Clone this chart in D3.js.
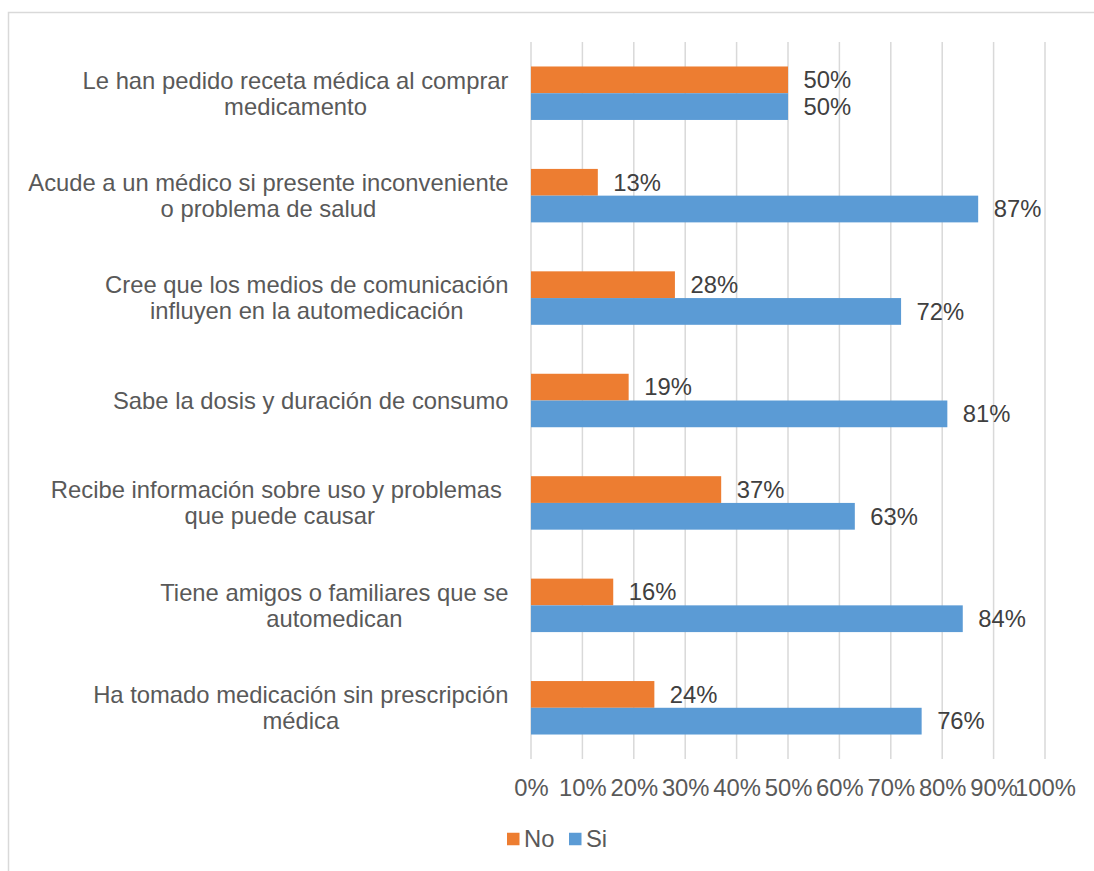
<!DOCTYPE html>
<html>
<head>
<meta charset="utf-8">
<script src="https://cdn.jsdelivr.net/npm/d3@7"></script>
<style>
  html, body { margin: 0; padding: 0; background: #fff; }
  svg { display: block; font-family: "Liberation Sans", Arial, sans-serif; }
</style>
</head>
<body>
<svg id="chart" width="1094" height="871"></svg>
<script>
// Survey items, each split into the lines it is printed on
const categories = [
  ["Le han pedido receta médica al comprar", "medicamento"],
  ["Acude a un médico si presente inconveniente", "o problema de salud"],
  ["Cree que los medios de comunicación", "influyen en la automedicación"],
  ["Sabe la dosis y duración de consumo"],
  ["Recibe información sobre uso y problemas ", "que puede causar"],
  ["Tiene amigos o familiares que se", "automedican"],
  ["Ha tomado medicación sin prescripción", "médica"]
];
const seriesNames = ["No", "Si"];
const noValues = [50, 13, 28, 19, 37, 16, 24];
const siValues = [50, 87, 72, 81, 63, 84, 76];
const tickValues = [0, 10, 20, 30, 40, 50, 60, 70, 80, 90, 100];
const colors = { No: "#ED7D31", Si: "#5B9BD5" };

const FS = 23.8;
const svg = d3.select("#chart");
const plot = { left: 531, right: 1045, top: 42, bottom: 759 };

// Outer chart frame (only top and left edges fall inside the view)
svg.append("rect")
  .attr("x", 8.5).attr("y", 12.5)
  .attr("width", 1200).attr("height", 1000)
  .attr("fill", "none").attr("stroke", "#d9d9d9").attr("stroke-width", 1.5);

const x = d3.scaleLinear().domain([0, 100]).range([plot.left, plot.right]);
const y = d3.scaleBand().domain(d3.range(categories.length))
  .range([plot.top, plot.bottom]).paddingInner(0.478).paddingOuter(0.239);
const sub = d3.scaleBand().domain(seriesNames).range([0, y.bandwidth()]);

// Vertical gridlines
svg.append("g").selectAll("line").data(tickValues).join("line")
  .attr("x1", d => x(d)).attr("x2", d => x(d))
  .attr("y1", plot.top).attr("y2", plot.bottom)
  .attr("stroke", "#d9d9d9").attr("stroke-width", 1.5);

// Tick labels along the bottom
const xAxis = d3.axisBottom(x).tickValues(tickValues).tickFormat(d => d + "%").tickSize(0).tickPadding(0);
const ax = svg.append("g").attr("transform", `translate(0, ${plot.bottom})`).call(xAxis);
ax.select(".domain").remove();
ax.selectAll("text")
  .attr("y", 29).attr("dy", "0.35em")
  .attr("font-size", FS).attr("fill", "#595959")
  .attr("font-family", "Liberation Sans, Arial, sans-serif");

const rows = categories.map((c, i) => ({ i, lines: c, No: noValues[i], Si: siValues[i] }));

// Bars and value labels
const grp = svg.append("g").selectAll("g").data(rows).join("g")
  .attr("transform", d => `translate(0, ${y(d.i)})`);
seriesNames.forEach(s => {
  grp.append("rect")
    .attr("x", x(0))
    .attr("y", sub(s))
    .attr("width", d => x(d[s]) - x(0))
    .attr("height", sub.bandwidth())
    .attr("fill", colors[s]);
  grp.append("text")
    .attr("x", d => x(d[s]) + 15.5)
    .attr("y", sub(s) + sub.bandwidth() / 2)
    .attr("dy", "0.35em")
    .attr("font-size", FS).attr("fill", "#404040")
    .text(d => d[s] + "%");
});

// Category labels: wrapped lines centred on each other, block right-aligned
const labelRight = 508.5;
const lineH = 26;
rows.forEach(r => {
  const cy = y(r.i) + y.bandwidth() / 2;
  const t = svg.append("text")
    .attr("font-size", FS).attr("fill", "#595959")
    .attr("text-anchor", "middle")
    .attr("xml:space", "preserve");
  const n = r.lines.length;
  const spans = r.lines.map((ln, k) => t.append("tspan")
    .attr("y", cy + (k - (n - 1) / 2) * lineH)
    .attr("dy", "0.35em")
    .text(ln));
  const w = d3.max(spans, sp => sp.node().getComputedTextLength());
  spans.forEach(sp => sp.attr("x", labelRight - w / 2));
});

// Legend
const legend = svg.append("g").attr("transform", "translate(507, 839)");
seriesNames.forEach((s, k) => {
  const g = legend.append("g").attr("transform", `translate(${k * 62}, 0)`);
  g.append("rect").attr("x", 0).attr("y", -6.25).attr("width", 12.5).attr("height", 12.5).attr("fill", colors[s]);
  g.append("text").attr("x", 17).attr("y", 0).attr("dy", "0.35em")
    .attr("font-size", FS).attr("fill", "#595959").text(s);
});
</script>
</body>
</html>
